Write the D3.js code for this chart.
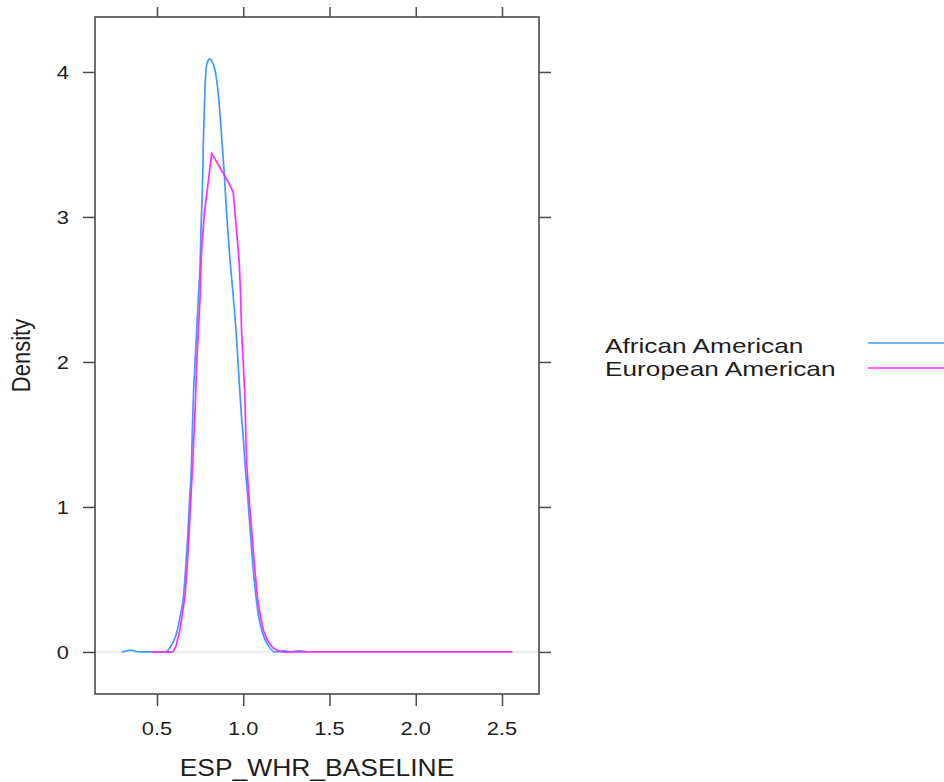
<!DOCTYPE html>
<html>
<head>
<meta charset="utf-8">
<script src="https://cdn.jsdelivr.net/npm/d3@7"></script>
<style>
  html, body { margin: 0; padding: 0; background: #fff; }
  svg { display: block; }
  text { font-family: "Liberation Sans", Arial, sans-serif; fill: #1e1e1e; }
</style>
</head>
<body>
<svg id="chart" width="944" height="782"></svg>
<script>
// Kernel density estimates of ESP_WHR_BASELINE by group
const groups = ["African American", "European American"];
const groupColors = ["#3d9bff", "#ff2bff"];

const aaX = [0.296, 0.32, 0.34, 0.36, 0.38, 0.40, 0.45, 0.50, 0.546, 0.57, 0.59, 0.605, 0.618, 0.635, 0.653, 0.668, 0.68, 0.69, 0.70, 0.705, 0.711, 0.72, 0.73, 0.74, 0.75, 0.755, 0.763, 0.769, 0.778, 0.79, 0.807, 0.82, 0.83, 0.84, 0.855, 0.875, 0.89, 0.905, 0.92, 0.94, 0.958, 0.97, 0.98, 0.99, 1.0, 1.01, 1.026, 1.04, 1.055, 1.074, 1.09, 1.107, 1.128, 1.15, 1.184, 1.21, 1.24, 1.27, 1.30, 1.32, 1.34, 1.37];
const aaY = [0, 0.005, 0.012, 0.01, 0.003, 0, 0, 0, 0, 0.02, 0.06, 0.1, 0.15, 0.25, 0.38, 0.61, 0.84, 1.07, 1.30, 1.53, 1.76, 1.99, 2.22, 2.45, 2.68, 2.91, 3.19, 3.53, 3.88, 4.06, 4.09, 4.07, 4.04, 3.99, 3.85, 3.55, 3.3, 3.0, 2.75, 2.48, 2.22, 1.99, 1.8, 1.62, 1.48, 1.3, 1.07, 0.84, 0.61, 0.38, 0.24, 0.15, 0.08, 0.035, 0, 0.003, 0.008, 0.002, 0.004, 0.008, 0.006, 0];

const eaX = [0.47, 0.593, 0.61, 0.633, 0.662, 0.676, 0.687, 0.697, 0.707, 0.716, 0.724, 0.73, 0.74, 0.75, 0.755, 0.763, 0.775, 0.792, 0.817, 0.923, 0.942, 0.966, 0.977, 0.985, 0.99, 1.0, 1.01, 1.014, 1.02, 1.033, 1.049, 1.064, 1.082, 1.1, 1.117, 1.14, 1.17, 1.2, 1.225, 2.56];
const eaY = [0, 0, 0.04, 0.15, 0.38, 0.61, 0.84, 1.07, 1.30, 1.53, 1.76, 1.99, 2.22, 2.45, 2.68, 2.85, 3.03, 3.19, 3.44, 3.22, 3.17, 2.84, 2.68, 2.45, 2.22, 1.99, 1.76, 1.53, 1.30, 1.07, 0.84, 0.61, 0.38, 0.24, 0.15, 0.08, 0.03, 0.01, 0, 0];

const xTicks = [0.5, 1.0, 1.5, 2.0, 2.5];
const yTicks = [0, 1, 2, 3, 4];
const xTitle = "ESP_WHR_BASELINE";
const yTitle = "Density";

// Layout
const panel = { left: 95, top: 17, right: 539, bottom: 694 };
const stretch = 1.15;   // horizontal text scaling
const frameColor = "#4a4a4a";

const svg = d3.select("#chart");

const x = d3.scaleLinear().domain([0.1406, 2.7145]).range([panel.left, panel.right]);
const y = d3.scaleLinear().domain([-0.29, 4.379]).range([panel.bottom, panel.top]);

// Zero reference line
svg.append("line")
  .attr("x1", panel.left).attr("x2", panel.right)
  .attr("y1", y(0)).attr("y2", y(0))
  .attr("stroke", "#e6e6e6").attr("stroke-width", 1.5);

// Density curves (first group smooth, second drawn point to point)
const series = [
  { name: groups[0], xs: aaX, ys: aaY, color: groupColors[0], curve: d3.curveMonotoneX },
  { name: groups[1], xs: eaX, ys: eaY, color: groupColors[1], curve: d3.curveLinear }
];
series.forEach(s => {
  const line = d3.line().x(d => x(d[0])).y(d => y(d[1])).curve(s.curve);
  svg.append("path")
    .datum(d3.zip(s.xs, s.ys))
    .attr("d", line)
    .attr("fill", "none")
    .attr("stroke", s.color)
    .attr("stroke-width", 1.7)
    .attr("stroke-linejoin", "round");
});

// Axes on all four sides (ticks outside, labels on bottom/left)
const tickLen = 12;
const bottomAxis = d3.axisBottom(x).tickValues(xTicks).tickSizeInner(tickLen).tickSizeOuter(0).tickFormat("");
const topAxis = d3.axisTop(x).tickValues(xTicks).tickSizeInner(10).tickSizeOuter(0).tickFormat("");
const leftAxis = d3.axisLeft(y).tickValues(yTicks).tickSizeInner(tickLen).tickSizeOuter(0).tickFormat("");
const rightAxis = d3.axisRight(y).tickValues(yTicks).tickSizeInner(tickLen).tickSizeOuter(0).tickFormat("");

function styleAxis(g) {
  g.select(".domain").remove();
  g.selectAll(".tick line").attr("stroke", frameColor).attr("stroke-width", 1.5);
}
svg.append("g").attr("transform", `translate(0,${panel.bottom})`).call(bottomAxis).call(styleAxis);
svg.append("g").attr("transform", `translate(0,${panel.top})`).call(topAxis).call(styleAxis);
svg.append("g").attr("transform", `translate(${panel.left},0)`).call(leftAxis).call(styleAxis);
svg.append("g").attr("transform", `translate(${panel.right},0)`).call(rightAxis).call(styleAxis);

// Panel frame
svg.append("rect")
  .attr("x", panel.left).attr("y", panel.top)
  .attr("width", panel.right - panel.left).attr("height", panel.bottom - panel.top)
  .attr("fill", "none").attr("stroke", frameColor).attr("stroke-width", 1.6);

// Tick labels
const fmt = d3.format(".1f");
svg.selectAll("text.xlab").data(xTicks).enter().append("text")
  .attr("class", "xlab")
  .attr("transform", d => `translate(${x(d)},735) scale(${stretch},1)`)
  .attr("text-anchor", "middle")
  .attr("font-size", 19)
  .text(d => fmt(d));

svg.selectAll("text.ylab").data(yTicks).enter().append("text")
  .attr("class", "ylab")
  .attr("transform", d => `translate(69,${y(d)}) scale(${stretch},1)`)
  .attr("text-anchor", "end")
  .attr("dy", "0.36em")
  .attr("font-size", 19)
  .text(d => d);

// Axis titles
svg.append("text")
  .attr("transform", `translate(${(panel.left + panel.right) / 2},776) scale(${stretch},1)`)
  .attr("text-anchor", "middle")
  .attr("font-size", 23)
  .text(xTitle);

svg.append("text")
  .attr("transform", `translate(30,${(panel.top + panel.bottom) / 2}) scale(${stretch},1) rotate(-90)`)
  .attr("text-anchor", "middle")
  .attr("font-size", 22)
  .text(yTitle);

// Legend
const legendTextY = [352.5, 376];
const legendLineY = [343, 368];
groups.forEach((g, i) => {
  svg.append("text")
    .attr("transform", `translate(605,${legendTextY[i]}) scale(1.25,1)`)
    .attr("font-size", 21)
    .text(g);
  svg.append("line")
    .attr("x1", 868).attr("x2", 944)
    .attr("y1", legendLineY[i]).attr("y2", legendLineY[i])
    .attr("stroke", groupColors[i]).attr("stroke-width", 1.7);
});
</script>
</body>
</html>
